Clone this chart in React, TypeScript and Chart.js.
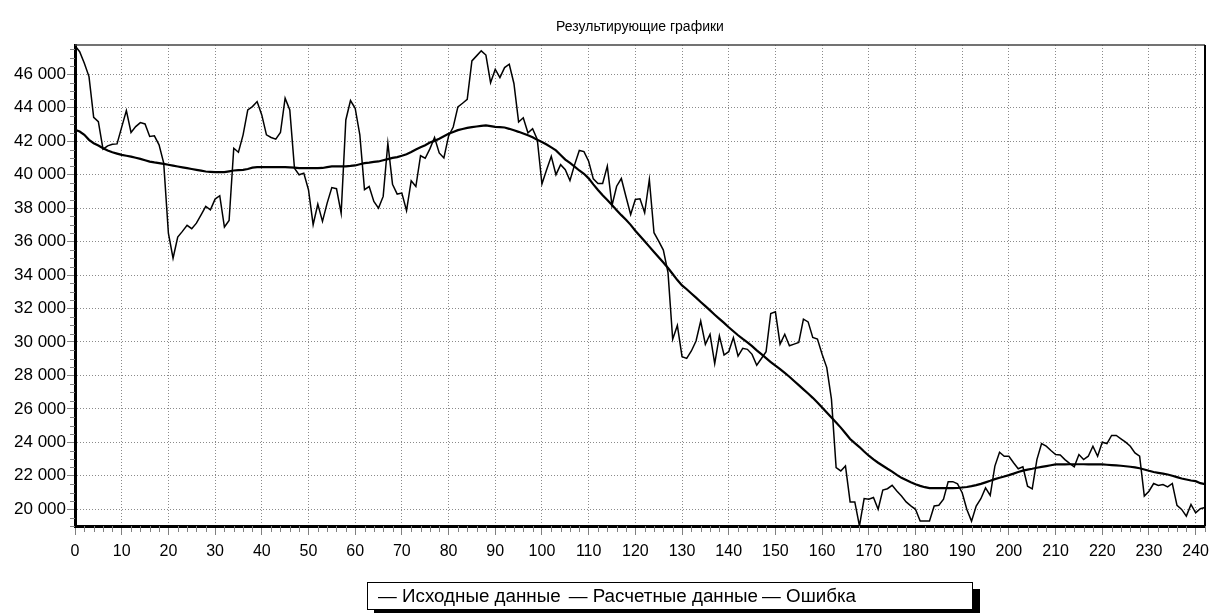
import React, { useEffect, useRef } from 'react';
import { Chart, registerables } from 'chart.js';

Chart.register(...registerables);

const TITLE = 'Результирующие графики';
const SERIES_LABELS = ['Исходные данные', 'Расчетные данные', 'Ошибка'];

const X_VALUES = Array.from({ length: 243 }, (_, i) => i);

const RAW = [
  47700, 47350, 46660, 45860, 43430, 43170, 41520, 41720, 41820, 41840,
  42840, 43830, 42520, 42870, 43110, 43030, 42280, 42320, 41780, 40690,
  36510, 35010, 36270, 36610, 36970, 36770, 37100, 37600, 38100, 37900,
  38540, 38740, 36870, 37260, 41580, 41340, 42380, 43870, 44070, 44370,
  43570, 42380, 42220, 42120, 42520, 44570, 43870, 40390, 39990, 40090,
  39100, 37010, 38240, 37210, 38300, 39230, 39160, 37700, 43270, 44430,
  43970, 42380, 39100, 39290, 38400, 38000, 38700, 41880, 39430, 38840,
  38900, 37850, 39640, 39290, 41130, 40980, 41540, 42220, 41300, 41000,
  42300, 42850, 44050, 44270, 44500, 46800, 47100, 47400, 47150, 45500,
  46300, 45800, 46400, 46600, 45450, 43150, 43400, 42500, 42750, 42100,
  39450, 40300, 41100, 40000, 40600, 40300, 39650, 40600, 41450, 41380,
  40800, 39750, 39470, 39470, 40510, 38160, 39310, 39770, 38680, 37620,
  38520, 38560, 37720, 39710, 36530, 36030, 35490, 34140, 30160, 30990,
  29120, 29020, 29460, 30060, 31250, 29860, 30460, 28710, 30360, 29220,
  29420, 30260, 29160, 29620, 29560, 29260, 28610, 29010, 29420, 31700,
  31800, 29870, 30460, 29770, 29870, 29970, 31360, 31200, 30270, 30170,
  29270, 28470, 26580, 22490, 22290, 22590, 20440, 20440, 19000, 20640,
  20600, 20700, 20000, 21150, 21230, 21430, 21090, 20790, 20440, 20200,
  20000, 19300, 19300, 19300, 20200, 20240, 20600, 21650, 21650, 21520,
  20990, 19990, 19290, 20190, 20630, 21280, 20830, 22580, 23410, 23170,
  23170, 22780, 22420, 22540, 21380, 21220, 22970, 23930, 23770, 23510,
  23270, 23250, 22970, 22740, 22540, 23270, 22970, 23170, 23770, 23170,
  24010, 23930, 24410, 24410, 24210, 24010, 23770, 23370, 23170, 20790,
  21080, 21540, 21420, 21480, 21340, 21540, 20230, 19990, 19590, 20290,
  19790, 20030, 20100,
];

const FITTED = [
  42680, 42580, 42380, 42080, 41880, 41740, 41580, 41440, 41340, 41260,
  41180, 41130, 41080, 41010, 40940, 40860, 40780, 40730, 40690, 40640,
  40590, 40540, 40490, 40440, 40390, 40340, 40290, 40240, 40190, 40170,
  40150, 40150, 40150, 40200, 40250, 40270, 40290, 40340, 40420, 40450,
  40450, 40450, 40450, 40450, 40450, 40450, 40440, 40420, 40390, 40390,
  40390, 40390, 40390, 40400, 40450, 40490, 40490, 40490, 40500, 40520,
  40550, 40620, 40690, 40720, 40760, 40790, 40860, 40930, 41000, 41050,
  41130, 41220, 41350, 41500, 41640, 41760, 41920, 42020, 42150, 42300,
  42440, 42550, 42660, 42730, 42800, 42840, 42880, 42920, 42940, 42900,
  42860, 42840, 42820, 42740, 42650, 42560, 42460, 42350, 42230, 42080,
  41950, 41800, 41630, 41450, 41180, 40900, 40700, 40480, 40250, 40050,
  39780, 39420, 39080, 38770, 38480, 38180, 37880, 37580, 37300, 37000,
  36650, 36340, 36020, 35700, 35380, 35060, 34750, 34420, 34060, 33700,
  33380, 33150, 32900, 32650, 32390, 32140, 31890, 31630, 31380, 31140,
  30880, 30640, 30400, 30180, 29970, 29750, 29500, 29270, 29030, 28800,
  28580, 28370, 28150, 27920, 27670, 27420, 27170, 26920, 26660, 26380,
  26080, 25780, 25480, 25180, 24880, 24540, 24200, 23950, 23720, 23450,
  23200, 22980, 22780, 22600, 22420, 22250, 22060, 21880, 21750, 21620,
  21500, 21400, 21320, 21260, 21260, 21260, 21260, 21260, 21260, 21270,
  21300, 21330, 21380, 21440, 21520, 21610, 21700, 21800, 21880, 21960,
  22040, 22130, 22230, 22310, 22370, 22420, 22480, 22530, 22580, 22630,
  22680, 22680, 22680, 22690, 22690, 22690, 22690, 22680, 22680, 22680,
  22680, 22660, 22640, 22620, 22600, 22570, 22540, 22500, 22450, 22380,
  22300, 22230, 22180, 22130, 22080, 22000, 21920, 21840, 21780, 21720,
  21680, 21560, 21500,
];

const ERROR: number[] = [];

const X_TICKS = [0, 10, 20, 30, 40, 50, 60, 70, 80, 90, 100, 110, 120, 130, 140, 150, 160, 170, 180, 190, 200, 210, 220, 230, 240];
const Y_TICKS = [20000, 22000, 24000, 26000, 28000, 30000, 32000, 34000, 36000, 38000, 40000, 42000, 44000, 46000];
const X_MIN = 0;
const X_MAX = 242;
const Y_MIN = 19000;
const Y_MAX = 47750;
const X_MINOR_STEP = 2;
const Y_MINOR_STEP = 500;

const FONT = '"Liberation Sans", Arial, Helvetica, sans-serif';

function fmt(v: number): string {
  return String(Math.round(v)).replace(/\B(?=(\d{3})+(?!\d))/g, ' ');
}

const decorPlugin = {
  id: 'decor',
  afterDraw(chart: any) {
    const { ctx, chartArea: a } = chart;
    const x = chart.scales.x;
    const y = chart.scales.y;
    ctx.save();
    ctx.strokeStyle = '#808080';
    ctx.lineWidth = 1;
    ctx.beginPath();
    for (let v = X_MIN; v <= X_MAX; v += X_MINOR_STEP) {
      if (X_TICKS.includes(v)) continue;
      const px = Math.round(x.getPixelForValue(v)) + 0.5;
      ctx.moveTo(px, a.bottom);
      ctx.lineTo(px, a.bottom + 6);
    }
    for (let v = Math.ceil(Y_MIN / Y_MINOR_STEP) * Y_MINOR_STEP; v <= Y_MAX; v += Y_MINOR_STEP) {
      if (Y_TICKS.includes(v)) continue;
      const py = Math.round(y.getPixelForValue(v)) + 0.5;
      ctx.moveTo(a.left - 5, py);
      ctx.lineTo(a.left, py);
    }
    ctx.stroke();

    ctx.strokeStyle = '#444';
    ctx.lineWidth = 1.5;
    ctx.beginPath();
    ctx.moveTo(a.left, a.top);
    ctx.lineTo(a.right, a.top);
    ctx.stroke();
    ctx.strokeStyle = '#000';
    ctx.lineWidth = 2;
    ctx.beginPath();
    ctx.moveTo(a.right, a.top);
    ctx.lineTo(a.right, a.bottom);
    ctx.stroke();

    ctx.fillStyle = '#000';
    ctx.font = '14px ' + FONT;
    ctx.textAlign = 'center';
    ctx.textBaseline = 'middle';
    ctx.fillText(TITLE, (a.left + a.right) / 2, 27);
    ctx.restore();
  },
};

export default function App() {
  const ref = useRef<HTMLCanvasElement | null>(null);

  useEffect(() => {
    if (!ref.current) return;
    const chart = new Chart(ref.current, {
      type: 'line',
      data: {
        datasets: [
          {
            label: SERIES_LABELS[0],
            data: RAW.map((v, i) => ({ x: X_VALUES[i], y: v })),
            borderColor: '#000',
            borderWidth: 1.5,
            pointRadius: 0,
            tension: 0,
            fill: false,
          },
          {
            label: SERIES_LABELS[1],
            data: FITTED.map((v, i) => ({ x: X_VALUES[i], y: v })),
            borderColor: '#000',
            borderWidth: 2.2,
            pointRadius: 0,
            tension: 0,
            fill: false,
          },
          {
            label: SERIES_LABELS[2],
            data: ERROR.map((v, i) => ({ x: X_VALUES[i], y: v })),
            borderColor: '#000',
            borderWidth: 1.5,
            pointRadius: 0,
            fill: false,
          },
        ],
      },
      options: {
        responsive: false,
        animation: false,
        devicePixelRatio: 1,
        layout: { padding: { left: 0, right: 9, top: 45, bottom: 0 } },
        plugins: {
          legend: { display: false },
          title: { display: false },
          tooltip: { enabled: false },
        },
        scales: {
          x: {
            type: 'linear',
            min: X_MIN,
            max: X_MAX,
            afterBuildTicks: (s: any) => {
              s.ticks = X_TICKS.map((v) => ({ value: v }));
            },
            afterFit: (s: any) => {
              s.height = 87;
              s.paddingRight = 0;
              s.paddingLeft = 0;
            },
            ticks: {
              autoSkip: false,
              maxRotation: 0,
              padding: 7,
              color: '#000',
              font: { family: FONT, size: 16 },
              callback: (v: any) => String(v),
            },
            grid: {
              color: '#8a8a8a',
              lineWidth: 1,
              drawTicks: true,
              tickLength: 9,
              tickColor: '#808080',
            },
            border: { display: true, color: '#000', width: 3, dash: [1, 2] },
          },
          y: {
            type: 'linear',
            min: Y_MIN,
            max: Y_MAX,
            afterBuildTicks: (s: any) => {
              s.ticks = Y_TICKS.map((v) => ({ value: v }));
            },
            afterFit: (s: any) => {
              s.width = 75;
            },
            ticks: {
              autoSkip: false,
              padding: 1,
              color: '#000',
              font: { family: FONT, size: 17 },
              callback: (v: any) => fmt(Number(v)),
            },
            grid: {
              color: '#8a8a8a',
              lineWidth: 1,
              drawTicks: true,
              tickLength: 8,
              tickColor: '#808080',
            },
            border: { display: true, color: '#000', width: 3, dash: [1, 2] },
          },
        },
      },
      plugins: [decorPlugin],
    } as any);
    return () => chart.destroy();
  }, []);

  return (
    <div style={{ position: 'fixed', left: 0, top: 0, width: 1214, height: 613, background: '#fff', overflow: 'hidden' }}>
      <canvas ref={ref} width={1214} height={613} style={{ display: 'block', width: 1214, height: 613 }} />
      <div
        style={{
          position: 'absolute',
          left: 367,
          top: 582,
          width: 606,
          height: 28,
          boxSizing: 'border-box',
          border: '1px solid #000',
          boxShadow: '7px 7px 0 #000',
          background: '#fff',
          fontFamily: FONT,
          fontSize: 18.8,
          lineHeight: '26px',
          paddingLeft: 10,
          whiteSpace: 'pre',
          color: '#000',
          overflow: 'hidden',
        }}
      >
        {SERIES_LABELS.map((label, i) => (
          <span key={label} style={{ marginRight: i === 0 ? 8 : 4 }}>
            {'— ' + label}
          </span>
        ))}
      </div>
    </div>
  );
}
